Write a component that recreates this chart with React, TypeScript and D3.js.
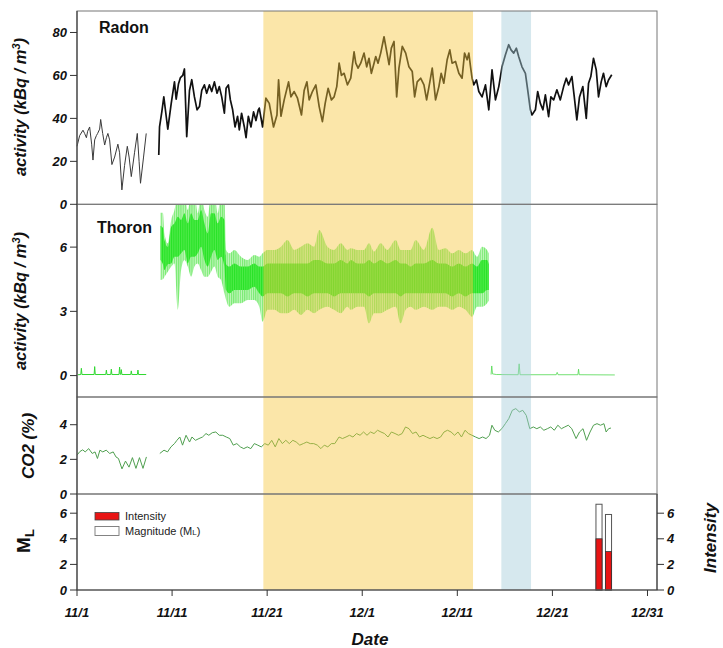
import React from 'react';
import * as d3 from 'd3';

// ---------- data (day offsets from 11/1) ----------
const dateTicks = [0, 10, 20, 30, 40, 50, 60];
const dateLabels = ['11/1', '11/11', '11/21', '12/1', '12/11', '12/21', '12/31'];
const radonTicks = [0, 20, 40, 60, 80];
const thoronTicks = [0, 3, 6];
const co2Ticks = [0, 2, 4];
const mlTicks = [0, 2, 4, 6];

const rainySpan: [number, number] = [19.6, 41.65];
const anomalySpan: [number, number] = [44.63, 47.75];

const radonSeg1: [number, number][] = [
  [0, 27], [0.28, 32], [0.63, 34.5], [0.8, 33], [0.99, 31], [1.12, 34], [1.33, 36], [1.54, 28], [1.68, 20.6], [1.86, 30],
  [2.04, 32], [2.17, 33], [2.38, 35], [2.49, 39.5], [2.7, 33], [2.91, 27.6], [3.09, 31], [3.25, 33], [3.43, 30], [3.67, 18.5],
  [3.96, 22], [4.3, 28], [4.48, 24], [4.72, 6.7], [5.0, 18], [5.29, 27], [5.48, 22], [5.71, 12.9], [6.05, 24], [6.34, 33],
  [6.53, 20], [6.68, 9.8], [7.0, 22], [7.28, 33],
];

const radonSeg2: [number, number][] = [
  [8.60, 23], [8.68, 36], [8.92, 43], [9.13, 50], [9.38, 41], [9.55, 35], [9.91, 47], [10.25, 57], [10.43, 49], [10.67, 56],
  [10.88, 59], [11.12, 60], [11.30, 63], [11.54, 31.5], [11.83, 53], [12.07, 58], [12.35, 50], [12.63, 44], [12.88, 45.5], [13.12, 53],
  [13.40, 55.6], [13.64, 51.7], [13.92, 55.6], [14.17, 52.5], [14.45, 57], [14.73, 51.7], [14.97, 54.8], [15.22, 50], [15.50, 42.4], [15.68, 54],
  [15.92, 55.6], [16.13, 48.6], [16.37, 44], [16.62, 36], [16.89, 41], [17.07, 34.6], [17.31, 42.4], [17.60, 36], [17.78, 31], [18.02, 41],
  [18.30, 36], [18.57, 43], [18.82, 39], [19.07, 44], [19.17, 44.8], [19.52, 36], [19.87, 49.4], [20.22, 47], [20.67, 36], [21.03, 41.6],
  [21.20, 58], [21.45, 41], [21.79, 48.6], [22.25, 57], [22.50, 50], [22.84, 52.5], [23.19, 49.4], [23.61, 41.6], [23.89, 53], [24.18, 57],
  [24.42, 48.6], [24.76, 52.5], [25.12, 55.6], [25.47, 45.5], [25.81, 38.5], [26.10, 47], [26.41, 54], [26.76, 48.6], [27.04, 50], [27.32, 54.8],
  [27.57, 65.7], [27.81, 60], [28.09, 61], [28.44, 55.6], [28.79, 58.7], [29.14, 71], [29.32, 65.7], [29.56, 63.4], [29.84, 65.7], [30.19, 70.4],
  [30.47, 64], [30.71, 68], [30.96, 61], [31.24, 65.7], [31.42, 68.8], [31.66, 65.7], [31.94, 70.4], [32.29, 78], [32.58, 71], [32.82, 65],
  [33.06, 72.7], [33.34, 75.8], [33.62, 50], [33.86, 63.4], [34.21, 73.5], [34.57, 70.4], [34.91, 64], [35.26, 61.8], [35.51, 50], [35.78, 57],
  [36.14, 58.7], [36.49, 55.6], [36.77, 48.6], [37.11, 57], [37.36, 63.4], [37.71, 48.6], [38.06, 54.8], [38.30, 61], [38.58, 56.4], [38.93, 67.3],
  [39.21, 71.9], [39.45, 65.7], [39.81, 66.5], [40.16, 61], [40.50, 58.7], [40.76, 70.4], [41.03, 67.3], [41.21, 70.4], [41.39, 64], [41.55, 58.7],
  [41.73, 55.6], [42.01, 57.9], [42.26, 52.5], [42.60, 50], [42.96, 55.6], [43.31, 44], [43.65, 62.6], [44.01, 48.6], [44.36, 54.8], [44.70, 64],
  [45.06, 69.6], [45.40, 74.3], [45.65, 71.9], [45.93, 70.4], [46.21, 72.7], [46.45, 68.8], [46.80, 64], [47.16, 61], [47.40, 53.3], [47.68, 44],
  [47.85, 41.6], [48.21, 44], [48.45, 52.5], [48.73, 47], [49.00, 44], [49.26, 51], [49.60, 40.8], [49.84, 50], [50.13, 48.6], [50.47, 53.3],
  [50.83, 48.6], [51.18, 54.8], [51.46, 58.7], [51.70, 55.6], [52.05, 59.5], [52.30, 50], [52.57, 39.3], [52.85, 50], [53.20, 54.8], [53.56, 40],
  [53.80, 56.4], [54.04, 59.5], [54.32, 68], [54.61, 62.6], [54.85, 50], [55.13, 57], [55.37, 61], [55.65, 54.8], [55.90, 57.9], [56.24, 60.3],
];

// thoron band: [day, low, coreLow, coreHigh, high]
const thoronBand: [number, number, number, number, number][] = [
  [8.78, 4.47, 5.4, 7.0, 7.6], [9.03, 4.5, 5.2, 6.9, 7.6], [9.20, 4.62, 4.93, 6.33, 6.64], [9.55, 4.85, 5.2, 6.0, 6.18],
  [9.91, 5.09, 5.24, 6.95, 7.27], [10.25, 5.24, 5.55, 7.11, 7.73], [10.60, 3.07, 5.55, 7.42, 8.5], [10.95, 4.93, 5.71, 7.27, 8.5],
  [11.30, 5.40, 5.87, 7.58, 8.5], [11.65, 5.09, 5.24, 7.11, 7.73], [12.00, 4.62, 5.55, 7.58, 8.5], [12.35, 5.09, 5.55, 7.27, 8.5],
  [12.70, 5.24, 5.71, 7.27, 7.58], [13.05, 4.93, 6.02, 7.73, 8.5], [13.40, 4.62, 5.40, 7.11, 7.73], [13.75, 4.62, 5.09, 6.64, 7.42],
  [14.10, 4.85, 5.55, 7.58, 8.5], [14.45, 5.09, 5.87, 7.58, 8.5], [14.80, 4.62, 5.40, 7.11, 7.58], [15.15, 4.47, 5.55, 7.42, 8.5],
  [15.50, 3.84, 5.09, 7.27, 8.5], [15.68, 3.53, 4.0, 5.2, 5.87], [16.02, 3.22, 3.84, 5.09, 5.71], [16.55, 3.38, 4.0, 5.24, 5.87],
  [17.25, 3.38, 4.0, 5.09, 5.55], [17.94, 3.53, 4.0, 5.09, 5.40], [18.65, 3.53, 4.15, 5.24, 5.63], [19.17, 3.22, 3.84, 5.09, 5.55],
  [19.52, 2.52, 3.69, 5.09, 5.71], [20.04, 3.07, 3.84, 5.24, 5.87], [20.75, 3.07, 3.84, 5.24, 5.87], [21.45, 2.91, 3.84, 5.24, 6.02],
  [22.14, 2.91, 3.69, 5.24, 6.33], [22.84, 3.07, 3.84, 5.24, 5.87], [23.55, 2.83, 3.84, 5.24, 6.02], [24.24, 3.07, 3.69, 5.24, 6.18],
  [24.94, 2.91, 3.84, 5.40, 6.02], [25.47, 3.07, 3.84, 5.40, 6.80], [26.34, 3.22, 3.84, 5.24, 6.02], [27.04, 3.07, 3.69, 5.24, 5.87],
  [27.74, 2.91, 3.84, 5.40, 6.18], [28.44, 3.22, 3.84, 5.24, 5.87], [28.79, 3.07, 3.84, 5.40, 5.95], [29.49, 3.22, 3.84, 5.24, 5.87],
  [30.19, 3.22, 3.84, 5.24, 5.87], [30.71, 2.44, 3.69, 5.40, 6.18], [31.24, 2.91, 3.84, 5.24, 5.79], [31.94, 2.91, 3.84, 5.40, 6.18],
  [32.63, 3.07, 3.84, 5.24, 5.87], [33.52, 3.22, 3.84, 5.40, 6.33], [34.04, 2.44, 3.69, 5.24, 5.87], [34.56, 3.07, 3.84, 5.24, 5.87],
  [35.09, 3.22, 3.84, 5.09, 5.87], [35.61, 3.07, 3.84, 5.24, 6.33], [36.49, 3.22, 3.84, 5.24, 5.87], [37.36, 3.07, 3.84, 5.40, 6.90],
  [38.06, 3.22, 3.84, 5.24, 5.87], [38.76, 3.22, 3.84, 5.24, 5.95], [39.45, 3.07, 3.69, 5.09, 5.71], [40.16, 3.22, 3.84, 5.24, 5.87],
  [40.86, 3.07, 3.69, 5.09, 5.71], [41.55, 2.75, 3.84, 5.24, 5.87], [42.08, 3.22, 3.84, 5.09, 5.55], [42.60, 3.22, 3.84, 5.40, 6.02],
  [43.13, 3.38, 4.0, 5.40, 5.87], [43.31, 3.5, 4.0, 5.2, 5.7],
];

const thoronLow1: [number, number][] = [
  [0.1, 0.04], [0.4, 0.05], [0.46, 0.34], [0.52, 0.05], [1.8, 0.05], [1.86, 0.42], [1.92, 0.05], [3.03, 0.05], [3.09, 0.26],
  [3.15, 0.05], [3.55, 0.05], [3.61, 0.3], [3.67, 0.05], [4.42, 0.05], [4.48, 0.4], [4.54, 0.06], [4.6, 0.06], [4.66, 0.28],
  [4.72, 0.05], [5.65, 0.05], [5.71, 0.22], [5.77, 0.05], [6.35, 0.05], [6.41, 0.26], [6.47, 0.05], [7.28, 0.05],
];

const thoronLow2: [number, number][] = [
  [43.55, 0.05], [43.62, 0.45], [43.7, 0.08], [44.1, 0.05], [46.4, 0.04], [46.5, 0.55], [46.6, 0.04], [50.4, 0.04],
  [50.5, 0.15], [50.6, 0.04], [52.68, 0.04], [52.75, 0.3], [52.82, 0.04], [56.56, 0.03],
];

const co2Seg1: [number, number][] = [
  [0.0, 2.24], [0.3, 2.45], [0.6, 2.55], [0.86, 2.43], [1.23, 2.62], [1.6, 2.34], [1.9, 2.43], [2.15, 2.05], [2.41, 2.53],
  [2.71, 2.43], [3.07, 2.53], [3.44, 2.34], [3.81, 2.43], [4.10, 2.14], [4.36, 2.05], [4.73, 1.45], [5.10, 1.9], [5.47, 1.55],
  [5.83, 2.1], [6.20, 1.48], [6.57, 2.1], [6.94, 1.48], [7.30, 2.14],
];

const co2Seg2: [number, number][] = [
  [8.71, 2.34], [9.15, 2.53], [9.52, 2.43], [9.88, 2.72], [10.25, 2.91], [10.51, 3.10], [10.81, 3.29], [11.10, 2.82], [11.47, 3.39],
  [11.84, 3.0], [12.09, 3.29], [12.46, 3.10], [12.83, 3.20], [13.20, 3.29], [13.57, 3.49], [13.86, 3.39], [14.23, 3.54], [14.60, 3.58],
  [14.96, 3.39], [15.33, 3.39], [15.70, 3.29], [16.07, 3.20], [16.43, 2.82], [16.81, 2.91], [17.18, 2.72], [17.54, 2.62], [17.91, 2.72],
  [18.28, 2.62], [18.65, 2.91], [19.01, 2.82], [19.38, 2.72], [19.75, 2.91], [20.12, 2.82], [20.48, 3.10], [20.85, 2.72], [21.23, 3.20],
  [21.6, 2.91], [21.96, 3.10], [22.33, 2.91], [22.7, 3.10], [23.06, 3.0], [23.43, 2.82], [23.8, 2.91], [24.17, 3.0], [24.53, 2.91],
  [24.9, 2.91], [25.28, 2.82], [25.65, 2.62], [26.01, 2.82], [26.38, 2.72], [26.75, 2.91], [27.11, 2.91], [27.56, 3.29], [27.92, 3.20],
  [28.29, 3.29], [28.66, 3.39], [29.02, 3.29], [29.4, 3.49], [29.77, 3.39], [30.14, 3.58], [30.5, 3.39], [30.87, 3.58], [31.24, 3.49],
  [31.61, 3.68], [31.97, 3.58], [32.34, 3.49], [32.71, 3.29], [33.07, 3.58], [33.45, 3.49], [33.82, 3.39], [34.19, 3.49], [34.55, 3.87],
  [34.92, 3.77], [35.29, 3.49], [35.66, 3.58], [36.02, 3.29], [36.39, 3.39], [36.76, 3.29], [37.12, 3.20], [37.49, 3.29], [37.87, 3.20],
  [38.24, 3.29], [38.6, 3.58], [38.97, 3.68], [39.34, 3.58], [39.71, 3.39], [40.07, 3.58], [40.44, 3.29], [40.81, 3.68], [41.17, 3.49],
  [41.54, 3.39], [41.92, 3.29], [42.29, 3.20], [42.66, 3.29], [43.02, 3.20], [43.39, 3.39], [43.64, 3.97], [43.94, 3.68], [44.31, 3.58],
  [44.68, 3.77], [45.05, 4.06], [45.41, 4.35], [45.78, 4.83], [46.15, 4.93], [46.52, 4.74], [46.88, 4.83], [47.25, 4.54], [47.62, 3.77],
  [47.99, 3.87], [48.36, 3.77], [48.73, 3.87], [49.1, 3.68], [49.47, 3.77], [49.83, 3.87], [50.2, 3.68], [50.57, 3.97], [50.94, 3.77],
  [51.3, 3.87], [51.67, 3.97], [52.04, 3.77], [52.49, 3.20], [52.85, 3.58], [53.22, 3.77], [53.59, 3.10], [53.96, 3.58], [54.32, 3.97],
  [54.69, 4.06], [55.06, 3.97], [55.42, 4.06], [55.65, 3.58], [55.91, 3.77], [56.16, 3.81],
];

const quakeDays = [54.9, 55.9];
const quakeMagnitudes = [6.7, 5.9];
const quakeIntensities = [4, 3];

// ---------- layout ----------
const W = 723;
const H = 648;
const L = 77;
const R = 657;
const P1 = [11, 204.3];
const P2 = [204.3, 397];
const P3 = [397, 494];
const P4 = [494, 590];

const FONT = "'Liberation Sans', Arial, Helvetica, sans-serif";

export default function App() {
  const x = d3.scaleLinear().domain([0, 61]).range([L, R]);
  const yR = d3.scaleLinear().domain([0, 90]).range([P1[1], P1[0]]);
  const yT = d3.scaleLinear().domain([-1, 8]).range([P2[1], P2[0]]);
  const yC = d3.scaleLinear().domain([0, 5.6]).range([P3[1], P3[0]]);
  const yM = d3.scaleLinear().domain([0, 7.5]).range([P4[1], P4[0]]);

  const lineR = d3.line<[number, number]>().x(d => x(d[0])).y(d => yR(d[1]));
  const lineT = d3.line<[number, number]>().x(d => x(d[0])).y(d => yT(d[1]));
  const lineC = d3.line<[number, number]>().x(d => x(d[0])).y(d => yC(d[1]));
  type Row = [number, number, number, number, number];
  const outerArea = d3.area<Row>().x(d => x(d[0])).y0(d => yT(d[1])).y1(d => yT(d[4])).curve(d3.curveMonotoneX);
  const coreArea = d3.area<Row>().x(d => x(d[0])).y0(d => yT(d[2])).y1(d => yT(d[3])).curve(d3.curveMonotoneX);

  const halfBar = 0.32;

  const tickLabelStyle = { fontFamily: FONT, fontSize: 13, fontWeight: 700, fontStyle: 'italic' as const };
  const titleStyle = { fontFamily: FONT, fontSize: 16.5, fontWeight: 700, fontStyle: 'italic' as const };

  const leftAxis = (scale: d3.ScaleLinear<number, number>, ticks: number[]) => (
    <g>
      {ticks.map(t => (
        <g key={t}>
          <line x1={L - 7} x2={L} y1={scale(t)} y2={scale(t)} stroke="#333" strokeWidth={1} />
          <text x={L - 10} y={scale(t)} dy="0.36em" textAnchor="end" style={tickLabelStyle} fill="#111">{t}</text>
        </g>
      ))}
    </g>
  );

  return (
    <svg width={W} height={H} style={{ position: 'absolute', left: 0, top: 0, background: '#fff' }}>
      <defs>
        <clipPath id="clipT"><rect x={L} y={P2[0]} width={R - L} height={P2[1] - P2[0]} /></clipPath>
        <pattern id="hairOuter" patternUnits="userSpaceOnUse" width={2.2} height={8}>
          <rect width={2.2} height={8} fill="#c4f6be" />
          <line x1={0.6} x2={0.6} y1={0} y2={8} stroke="#62e85c" strokeWidth={0.9} />
        </pattern>
        <pattern id="hairCore" patternUnits="userSpaceOnUse" width={1.8} height={8}>
          <rect width={1.8} height={8} fill="#52ec4c" />
          <line x1={0.5} x2={0.5} y1={0} y2={8} stroke="#22e022" strokeWidth={0.9} />
        </pattern>
      </defs>

      {/* Radon */}
      <path d={lineR(radonSeg1) || ''} fill="none" stroke="#3a3a3a" strokeWidth={1} />
      <path d={lineR(radonSeg2) || ''} fill="none" stroke="#111" strokeWidth={1.7} strokeLinejoin="round" />

      {/* Thoron */}
      <g clipPath="url(#clipT)">
        <path d={outerArea(thoronBand) || ''} fill="url(#hairOuter)" />
        <path d={coreArea(thoronBand) || ''} fill="url(#hairCore)" />
        <path d={lineT(thoronLow1) || ''} fill="none" stroke="#2fd82f" strokeWidth={1} />
        <path d={lineT(thoronLow2) || ''} fill="none" stroke="#4fd84f" strokeWidth={0.8} />
      </g>

      {/* CO2 */}
      <path d={lineC(co2Seg1) || ''} fill="none" stroke="#4f9f4f" strokeWidth={1} />
      <path d={lineC(co2Seg2) || ''} fill="none" stroke="#4f9f4f" strokeWidth={1} />

      {/* Earthquake bars */}
      {quakeDays.map((d, i) => (
        <g key={d}>
          <rect x={x(d - halfBar)} y={yM(quakeMagnitudes[i])} width={x(d + halfBar) - x(d - halfBar)}
            height={yM(0) - yM(quakeMagnitudes[i])} fill="#fff" stroke="#555" strokeWidth={1} />
          <rect x={x(d - halfBar)} y={yM(quakeIntensities[i])} width={x(d + halfBar) - x(d - halfBar)}
            height={yM(0) - yM(quakeIntensities[i])} fill="#e81414" stroke="#333" strokeWidth={0.8} />
        </g>
      ))}

      {/* shaded periods */}
      <rect x={x(rainySpan[0])} y={P1[0]} width={x(rainySpan[1]) - x(rainySpan[0])} height={P4[1] - P1[0]}
        fill="#f7c73c" opacity={0.44} />
      <rect x={x(anomalySpan[0])} y={P1[0]} width={x(anomalySpan[1]) - x(anomalySpan[0])} height={P4[1] - P1[0]}
        fill="#a4ccda" opacity={0.45} />

      {/* frames */}
      {[P1, P2, P3, P4].map((p, i) => (
        <rect key={i} x={L} y={p[0]} width={R - L} height={p[1] - p[0]} fill="none" stroke="#777" strokeWidth={1} />
      ))}
      <line x1={L} x2={L} y1={P1[0]} y2={P4[1]} stroke="#444" strokeWidth={1.2} />
      <line x1={L} x2={R} y1={P4[1]} y2={P4[1]} stroke="#444" strokeWidth={1.2} />

      {/* left axes */}
      {leftAxis(yR, radonTicks)}
      {leftAxis(yT, thoronTicks)}
      {leftAxis(yC, co2Ticks)}
      {leftAxis(yM, mlTicks)}

      {/* right intensity axis */}
      <line x1={R} x2={R} y1={P4[0]} y2={P4[1]} stroke="#444" strokeWidth={1.2} />
      {mlTicks.map(t => (
        <g key={t}>
          <line x1={R} x2={R + 7} y1={yM(t)} y2={yM(t)} stroke="#333" />
          <text x={R + 10} y={yM(t)} dy="0.36em" textAnchor="start" style={tickLabelStyle} fill="#111">{t}</text>
        </g>
      ))}

      {/* x axis */}
      {dateTicks.map((t, i) => (
        <g key={t}>
          <line x1={x(t)} x2={x(t)} y1={P4[1]} y2={P4[1] + 6} stroke="#333" />
          <text x={x(t)} y={617} textAnchor="middle" style={tickLabelStyle} fill="#111">{dateLabels[i]}</text>
        </g>
      ))}
      <text x={370} y={645} textAnchor="middle" style={{ ...titleStyle, fontSize: 17 }} fill="#111">Date</text>

      {/* panel titles */}
      <text x={99} y={32.5} style={{ fontFamily: FONT, fontSize: 16, fontWeight: 700 }} fill="#111">Radon</text>
      <text x={97} y={233.3} style={{ fontFamily: FONT, fontSize: 16, fontWeight: 700 }} fill="#111">Thoron</text>

      {/* y titles */}
      <text transform={`translate(26,107) rotate(-90)`} textAnchor="middle" style={titleStyle} fill="#111">
        activity (kBq / m<tspan dy={-6} fontSize={11}>3</tspan><tspan dy={6}>)</tspan>
      </text>
      <text transform={`translate(26,301) rotate(-90)`} textAnchor="middle" style={titleStyle} fill="#111">
        activity (kBq / m<tspan dy={-6} fontSize={11}>3</tspan><tspan dy={6}>)</tspan>
      </text>
      <text transform={`translate(34,446) rotate(-90)`} textAnchor="middle" style={{ ...titleStyle, fontSize: 17 }} fill="#111">CO2 (%)</text>
      <text transform={`translate(30,541) rotate(-90)`} textAnchor="middle" style={{ fontFamily: FONT, fontSize: 19, fontWeight: 700 }} fill="#111">
        M<tspan dy={4} fontSize={13}>L</tspan>
      </text>
      <text transform={`translate(716,538) rotate(-90)`} textAnchor="middle" style={{ ...titleStyle, fontSize: 17 }} fill="#111">Intensity</text>

      {/* legend */}
      <rect x={95} y={512.5} width={24} height={7.5} fill="#e81414" stroke="#444" strokeWidth={0.8} />
      <text x={125} y={520} style={{ fontFamily: FONT, fontSize: 11 }} fill="#222">Intensity</text>
      <rect x={95} y={526.5} width={24} height={9} fill="#fff" stroke="#777" strokeWidth={0.9} />
      <text x={125} y={535} style={{ fontFamily: FONT, fontSize: 11 }} fill="#222">
        Magnitude (M<tspan fontSize={8}>L</tspan>)
      </text>
    </svg>
  );
}
